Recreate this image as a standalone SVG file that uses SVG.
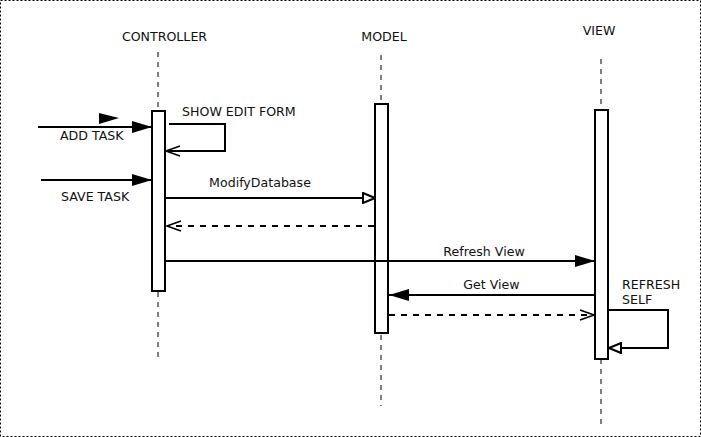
<svg xmlns="http://www.w3.org/2000/svg" width="701" height="437" viewBox="0 0 701 437">
<defs>
<marker id="fill" markerWidth="20" markerHeight="12" refX="20" refY="6" orient="auto" markerUnits="userSpaceOnUse"><path d="M0,0 L20,6 L0,12 Z" fill="#000"/></marker>
<marker id="hollow" markerWidth="14" markerHeight="12" refX="13" refY="6" orient="auto" markerUnits="userSpaceOnUse"><path d="M1,1 L13,6 L1,11 Z" fill="#fff" stroke="#000" stroke-width="2"/></marker>
<marker id="open" markerWidth="16" markerHeight="12" refX="15" refY="6" orient="auto" markerUnits="userSpaceOnUse"><path d="M1,1 L15,6 L1,11" fill="none" stroke="#000" stroke-width="1.5"/></marker>
</defs>
<style>
text{font-family:"DejaVu Sans",sans-serif;font-size:12.6px;fill:#111}
.life{stroke:#000;stroke-width:1;stroke-dasharray:5 5;fill:none}
.act{fill:#fff;stroke:#000;stroke-width:2}
.msg{stroke:#000;stroke-width:2;fill:none}
.dash{stroke:#000;stroke-width:2;fill:none;stroke-dasharray:6 6}
</style>
<rect x="0.5" y="0.5" width="700" height="436" fill="#fff" stroke="#000" stroke-width="1" stroke-dasharray="2 2"/>
<g id="controller">
<text x="164.5" y="41" text-anchor="middle">CONTROLLER</text>
<line class="life" x1="158" y1="52" x2="158" y2="358"/>
<rect class="act" x="152" y="111" width="13" height="180"/>
</g>
<g id="model">
<text x="384" y="41" text-anchor="middle">MODEL</text>
<line class="life" x1="381" y1="55" x2="381" y2="406"/>
<rect class="act" x="375" y="104" width="13" height="229"/>
</g>
<g id="view">
<text x="599" y="35" text-anchor="middle">VIEW</text>
<line class="life" x1="601" y1="59" x2="601" y2="426"/>
<rect class="act" x="595" y="110" width="13" height="249"/>
</g>
<g id="connectors">
<line class="msg" x1="38" y1="127" x2="152" y2="127" marker-end="url(#fill)"/>
<path d="M99,113 L119,118 L99,124 Z" fill="#000"/>
<text x="60" y="140">ADD TASK</text>
<path class="msg" d="M169,124 H225 V151 H166" marker-end="url(#open)"/>
<text x="182" y="116">SHOW EDIT FORM</text>
<line class="msg" x1="41" y1="180" x2="152" y2="180" marker-end="url(#fill)"/>
<text x="61" y="201">SAVE TASK</text>
<line class="msg" x1="166" y1="198" x2="375" y2="198" marker-end="url(#hollow)"/>
<text x="260" y="187" text-anchor="middle">ModifyDatabase</text>
<line class="dash" x1="374" y1="226" x2="167" y2="226" marker-end="url(#open)"/>
<line class="msg" x1="166" y1="261" x2="595" y2="261" marker-end="url(#fill)"/>
<text x="484" y="256" text-anchor="middle">Refresh View</text>
<line class="msg" x1="594" y1="295" x2="389" y2="295" marker-end="url(#fill)"/>
<text x="491.5" y="289" text-anchor="middle">Get View</text>
<line class="dash" x1="389" y1="315" x2="594" y2="315" marker-end="url(#open)"/>
<path class="msg" d="M609,310 H668 V348 H609" marker-end="url(#hollow)"/>
<text x="622" y="289">REFRESH</text>
<text x="622" y="304">SELF</text>
</g>
</svg>
